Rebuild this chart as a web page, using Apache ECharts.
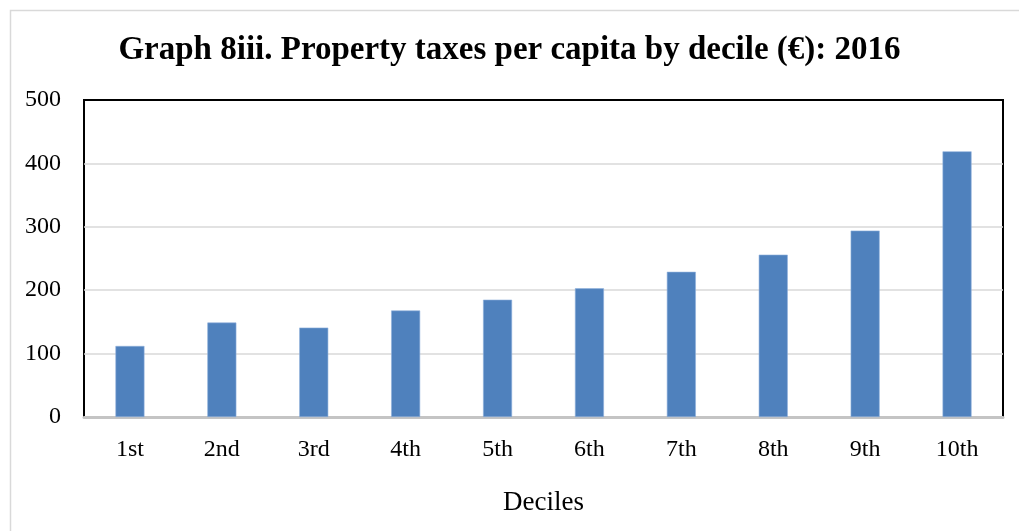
<!DOCTYPE html>
<html>
<head>
<meta charset="utf-8">
<script src="https://cdn.jsdelivr.net/npm/echarts@6/dist/echarts.min.js"></script>
<style>
  html, body { margin: 0; padding: 0; background: #fff; }
  #main { width: 1019px; height: 531px; }
</style>
</head>
<body>
<div id="main"></div>
<script>
// data
const deciles = ['1st', '2nd', '3rd', '4th', '5th', '6th', '7th', '8th', '9th', '10th'];
const taxPerCapita = [112, 149, 141, 168, 185, 203, 229, 256, 294, 419];
const yTicks = [0, 100, 200, 300, 400, 500];

const serif = '"Liberation Serif", "DejaVu Serif", serif';

let myChart = echarts.init(document.getElementById('main'));
let option = {
    animation: false,
    title: {
        text: 'Graph 8iii. Property taxes per capita by decile (€): 2016',
        left: 'center',
        top: 29,
        textStyle: { fontFamily: serif, fontSize: 33, fontWeight: 'bold', color: '#000' }
    },
    graphic: [
        {
            type: 'rect',
            left: 8, top: 8,
            shape: { width: 1040, height: 560 },
            style: { fill: 'none', stroke: '#d9d9d9', lineWidth: 1.5 },
            silent: true
        }
    ],
    grid: {
        left: 84, right: 16, top: 100, bottom: 114,
        show: true,
        borderColor: '#000',
        borderWidth: 2
    },
    xAxis: {
        type: 'category',
        data: deciles,
        name: 'Deciles',
        nameLocation: 'middle',
        nameGap: 72,
        nameTextStyle: { fontFamily: serif, fontSize: 27, color: '#000' },
        axisLine: { lineStyle: { color: '#c4c4c4', width: 3 } },
        axisTick: { show: false },
        axisLabel: { fontFamily: serif, fontSize: 24, color: '#000', margin: 21 }
    },
    yAxis: {
        type: 'value',
        min: yTicks[0],
        max: yTicks[yTicks.length - 1],
        interval: 100,
        axisLine: { show: false },
        axisTick: { show: false },
        splitLine: { showMinLine: false, showMaxLine: false, lineStyle: { color: '#d9d9d9', width: 1.5 } },
        axisLabel: { fontFamily: serif, fontSize: 24, color: '#000', margin: 23 }
    },
    series: [
        {
            type: 'bar',
            data: taxPerCapita,
            barWidth: 29,
            itemStyle: { color: '#4f81bd', borderColor: '#8fb0dc', borderWidth: 0.6 }
        }
    ]
};
myChart.setOption(option);
</script>
</body>
</html>
